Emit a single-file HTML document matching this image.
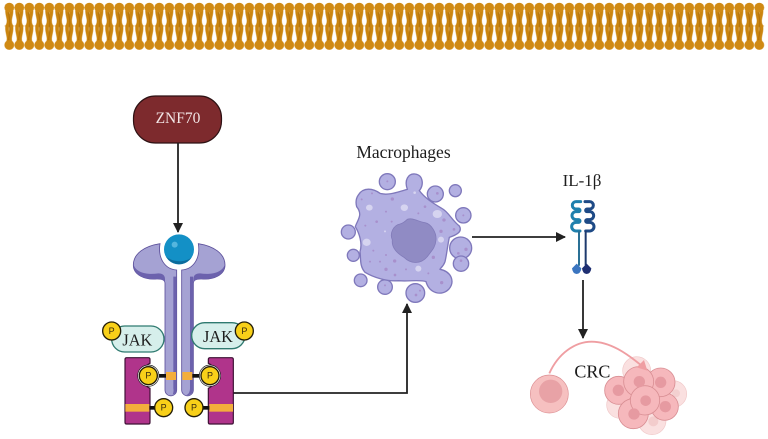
<!DOCTYPE html>
<html><head><meta charset="utf-8"><style>
html,body{margin:0;padding:0;background:#fff}
svg{display:block}
text{font-family:"Liberation Serif",serif}
.p{font-family:"Liberation Sans",sans-serif;font-size:27px;fill:#3a2c10;text-anchor:middle}
</style></head><body>
<svg width="768" height="439" viewBox="0 0 768 439" xmlns="http://www.w3.org/2000/svg">
<defs>
<pattern id="mem" x="4.3" y="0" width="10" height="53" patternUnits="userSpaceOnUse">
<rect x="0" y="25.200" width="10" height="1.600" fill="#e3b565"/>
<circle cx="0" cy="26" r=".8" fill="#fff"/><circle cx="10" cy="26" r=".8" fill="#fff"/>
<path d="M3,9 C1.500,14 6.500,20 3,26 C1.500,32 6.500,38 3,44 M7,9 C8.500,14 3.500,20 7,26 C8.500,32 3.500,38 7,44" fill="none" stroke="#cb850f" stroke-width="3.600"/>
<path d="M5,10 C3,15 7,20 5,26 C7,32 3,37 5,43" fill="none" stroke="#b0700b" stroke-width="1"/>
<circle cx="5" cy="7.600" r="4.900" fill="#d08a14"/>
<circle cx="5" cy="45" r="4.900" fill="#d08a14"/>
</pattern>
<marker id="ah" markerWidth="12" markerHeight="12" refX="9" refY="5" orient="auto" markerUnits="userSpaceOnUse"><path d="M0,0 L10,5 L0,10 Z" fill="#222"/></marker>
</defs>
<rect width="768" height="439" fill="#fff"/>
<rect x="4.300" y="0" width="760" height="53" fill="url(#mem)"/>

<!-- ZNF70 -->
<rect x="133.500" y="96" width="88" height="47" rx="22" fill="#7d2a2d" stroke="#2e1214" stroke-width="1.200"/>
<text x="178" y="123" font-size="15.500" fill="#f2e6e6" text-anchor="middle">ZNF70</text>

<!-- Connectors -->
<g fill="none" stroke="#222" stroke-width="1.800">
<line x1="178" y1="143" x2="178" y2="232" marker-end="url(#ah)"/>
<path d="M233,393 H407 V304" marker-end="url(#ah)"/>
<line x1="472" y1="237" x2="565" y2="237" marker-end="url(#ah)"/>
<line x1="583" y1="280" x2="583" y2="338" marker-end="url(#ah)"/>
</g>

<!-- Receptor group -->
<g transform="translate(90 220) scale(.33333)">
<g stroke="#5b4f9a" stroke-width="2.500">
<path d="M210,71 C165,78 130,100 130,135 C130,165 165,180 200,177 Q225,176 225,190 V510 A17.500,17.500 0 0 0 260,510 V150 C225,148 203,115 210,71 Z" fill="#a5a2d3"/>
<path d="M275,510 A17.500,17.500 0 0 0 310,510 V190 Q310,176 335,177 C370,180 405,165 405,135 C405,100 370,78 325,71 C332,115 310,148 275,150 Z" fill="#a5a2d3"/>
</g>
<path d="M250,170 H259 V510 A13,13 0 0 1 248,524 Q252,515 250,505 Z" fill="#6c62ad"/>
<path d="M300,170 H309 V510 A16,16 0 0 1 290,525 Q300,520 300,505 Z" fill="#6c62ad"/>
<path d="M131,135 C140,160 175,165 205,160 Q225,160 225,178 L225,190 Q225,177 200,177 C165,180 130,165 131,135 Z" fill="#6c62ad"/>
<path d="M404,135 C395,160 360,165 330,160 Q310,160 310,178 L310,190 Q310,177 335,177 C370,180 405,165 404,135 Z" fill="#6c62ad"/>
<circle cx="267" cy="88" r="45" fill="#1390c6"/>
<path d="M305,112 A45,45 0 0 1 228,110 C250,128 285,128 305,112Z" fill="#0c6c9c"/>
<circle cx="254" cy="74" r="9" fill="#55b6de"/>
<!-- blocks -->
<path d="M105,418 Q105,413 110,413 H175 Q180,413 180,418 V430 A41,41 0 0 0 180,505 V607 Q180,612 175,612 H110 Q105,612 105,607 Z" fill="#b0348b" stroke="#3c1033" stroke-width="3.500"/>
<path d="M430,418 Q430,413 425,413 H360 Q355,413 355,418 V430 A41,41 0 0 1 355,505 V607 Q355,612 360,612 H425 Q430,612 430,607 Z" fill="#b0348b" stroke="#3c1033" stroke-width="3.500"/>
<rect x="106" y="552" width="72" height="23" fill="#f3ae3c"/>
<rect x="358" y="552" width="71" height="23" fill="#f3ae3c"/>
<rect x="228" y="456" width="30" height="24" fill="#f3ae3c"/>
<rect x="277" y="456" width="30" height="24" fill="#f3ae3c"/>
<g fill="#111">
<rect x="198" y="462" width="30" height="11"/><rect x="307" y="462" width="30" height="11"/>
<rect x="178" y="558" width="20" height="11"/><rect x="336" y="558" width="22" height="11"/>
</g>
<!-- JAK -->
<rect x="65" y="318" width="157" height="78" rx="39" fill="#d6efeb" stroke="#2f7a70" stroke-width="4"/>
<rect x="305" y="308" width="160" height="78" rx="39" fill="#d6efeb" stroke="#2f7a70" stroke-width="4"/>
<text x="142" y="376" font-size="49" fill="#1d1d1d" text-anchor="middle">JAK</text>
<text x="384" y="366" font-size="49" fill="#1d1d1d" text-anchor="middle">JAK</text>
<!-- P -->
<circle cx="175" cy="467" r="32" fill="#fff" stroke="#222" stroke-width="2"/>
<circle cx="360" cy="467" r="32" fill="#fff" stroke="#222" stroke-width="2"/>
<g fill="#f8d019" stroke="#231d08" stroke-width="4">
<circle cx="65" cy="333" r="27"/><circle cx="463" cy="333" r="27"/>
<circle cx="175" cy="467" r="27"/><circle cx="360" cy="467" r="27"/>
<circle cx="221" cy="563" r="27"/><circle cx="312" cy="563" r="27"/>
</g>
<text class="p" x="65" y="342">P</text><text class="p" x="463" y="342">P</text>
<text class="p" x="175" y="476">P</text><text class="p" x="360" y="476">P</text>
<text class="p" x="221" y="572">P</text><text class="p" x="312" y="572">P</text>
</g>

<!-- Macrophage -->
<text x="403.500" y="158" font-size="17.500" fill="#1d1d1d" text-anchor="middle">Macrophages</text>
<g transform="translate(330 140) scale(.33333)">
<g fill="#b3b0e2" stroke="#7f78bb" stroke-width="4">
<circle cx="172" cy="125" r="24"/>
<circle cx="316" cy="162" r="24"/>
<circle cx="376" cy="152" r="18"/>
<circle cx="400" cy="226" r="23"/>
<circle cx="55" cy="276" r="21"/>
<circle cx="70" cy="346" r="18"/>
<circle cx="92" cy="421" r="19"/>
<circle cx="165" cy="441" r="22"/>
<circle cx="256" cy="459" r="28"/>
<circle cx="392" cy="324" r="33"/>
<circle cx="393" cy="371" r="23"/>
<path d="M85,165 C100,140 130,145 150,160 C175,168 205,155 232,148 C222,120 235,100 255,102 C280,105 282,135 268,152 C285,175 310,190 335,205 C355,215 365,240 388,258 C398,275 380,285 358,292 C352,320 350,345 345,365 C340,380 330,385 330,388 C365,395 375,425 357,447 C335,470 298,460 288,425 C270,418 235,425 205,422 C170,425 130,412 105,397 C88,378 93,355 90,335 C98,310 88,280 76,260 C82,240 100,225 80,200 C76,185 78,175 85,165 Z"/>
</g>
<path d="M232,238 C250,232 265,246 285,248 C305,252 320,280 318,300 C316,325 302,335 292,350 C270,376 240,370 222,352 C205,342 184,325 187,300 C178,280 190,256 210,252 C218,250 225,245 232,238 Z" fill="#908bc4" stroke="#827cb9" stroke-width="2.500"/>
<g fill="#d6d4f0">
<ellipse cx="118" cy="203" rx="10" ry="9"/><ellipse cx="223" cy="203" rx="11" ry="10"/><ellipse cx="322" cy="222" rx="14" ry="12"/>
<ellipse cx="110" cy="307" rx="12" ry="11"/><ellipse cx="333" cy="299" rx="9" ry="9"/><ellipse cx="265" cy="386" rx="9" ry="9"/>
<circle cx="254" cy="158" r="4"/><circle cx="165" cy="274" r="3"/>
</g>
<g fill="#a890cc">
<circle cx="187" cy="177" r="5"/><circle cx="126" cy="160" r="3"/><circle cx="95" cy="178" r="3"/><circle cx="285" cy="200" r="4"/><circle cx="265" cy="220" r="3"/><circle cx="342" cy="240" r="5"/>
<circle cx="333" cy="274" r="5"/><circle cx="372" cy="268" r="4"/><circle cx="140" cy="245" r="4"/><circle cx="106" cy="257" r="3"/><circle cx="185" cy="245" r="3"/><circle cx="168" cy="215" r="3"/>
<circle cx="310" cy="352" r="5"/><circle cx="194" cy="363" r="5"/><circle cx="168" cy="388" r="5"/><circle cx="120" cy="365" r="3"/><circle cx="150" cy="365" r="3"/><circle cx="130" cy="332" r="3"/><circle cx="168" cy="345" r="3"/><circle cx="228" cy="388" r="3"/><circle cx="195" cy="405" r="4"/><circle cx="335" cy="428" r="5"/><circle cx="295" cy="400" r="3"/>
<circle cx="408" cy="328" r="5"/><circle cx="385" cy="340" r="4"/><circle cx="393" cy="362" r="4"/><circle cx="258" cy="465" r="4"/><circle cx="270" cy="452" r="3"/><circle cx="165" cy="436" r="3"/><circle cx="322" cy="160" r="4"/><circle cx="172" cy="124" r="3"/><circle cx="400" cy="226" r="3"/>
</g>
</g>

<!-- IL-1b -->
<text x="582" y="186" font-size="17" fill="#1d1d1d" text-anchor="middle">IL-1β</text>
<g transform="translate(550 165) scale(.33333)" fill="none" stroke-linecap="round">
<path d="M92,110 H78 A11,11 0 0 0 78,132 H86 A3,3 0 0 1 86,140 H78 A12,12 0 0 0 78,164 H86 A3,3 0 0 1 86,172 H78 A13,13 0 0 0 78,198 H90" stroke="#1f80ad" stroke-width="9"/>
<path d="M105,110 H119 A11,11 0 0 1 119,132 H111 A3,3 0 0 0 111,140 H119 A12,12 0 0 1 119,164 H111 A3,3 0 0 0 111,172 H119 A13,13 0 0 1 119,198 H107" stroke="#1e4a86" stroke-width="9"/>
<line x1="87" y1="200" x2="87" y2="300" stroke="#2a7095" stroke-width="6"/>
<line x1="107" y1="200" x2="107" y2="300" stroke="#1e3a6e" stroke-width="6"/>
<path d="M80,296 L94,310 Q92,326 80,327 Q68,326 66,310 Z" fill="#3b75c0"/>
<path d="M110,296 L124,310 Q122,326 110,327 Q98,326 96,310 Z" fill="#1f2f72"/>
</g>

<!-- CRC -->
<g transform="translate(520 330) scale(.33333)">
<circle cx="88" cy="192" r="57" fill="#f6c0c0" stroke="#dd8f93" stroke-width="2"/>
<circle cx="92" cy="184" r="35" fill="#e8a2a6"/>
<g fill="#fae0e0" stroke="#f0c8c8" stroke-width="2">
<circle cx="350" cy="122" r="42"/><circle cx="460" cy="192" r="40"/><circle cx="396" cy="272" r="42"/><circle cx="300" cy="225" r="40"/>
</g>
<circle cx="400" cy="274" r="15" fill="#f3cccc"/><circle cx="468" cy="190" r="12" fill="#f3d0d0"/>
<g stroke="#d98f94" stroke-width="2.500" fill="#f6b8bc">
<circle cx="296" cy="181" r="42"/><circle cx="340" cy="251" r="45"/><circle cx="434" cy="230" r="41"/><circle cx="422" cy="157" r="43"/><circle cx="356" cy="155" r="45"/><circle cx="375" cy="211" r="44"/>
</g>
<g fill="#e69aa1">
<circle cx="295" cy="181" r="17"/><circle cx="342" cy="252" r="17"/><circle cx="436" cy="230" r="17"/><circle cx="422" cy="157" r="17"/><circle cx="358" cy="155" r="17"/><circle cx="377" cy="212" r="16"/>
</g>
<path d="M88,130 C115,70 165,35 215,35 C270,35 320,70 366,108" fill="none" stroke="#ef9ea2" stroke-width="5.500"/>
<path d="M382,122 L350,112 L372,90 Z" fill="#ef9ea2"/>
<text x="217" y="143" font-size="54" fill="#1a1a1a" text-anchor="middle">CRC</text>
</g>
</svg>
</body></html>
